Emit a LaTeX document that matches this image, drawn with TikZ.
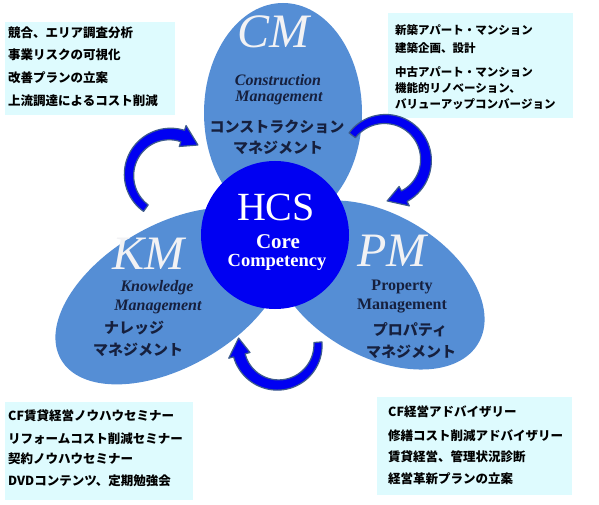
\documentclass[tikz,border=0pt]{standalone}
\usepackage{fontspec}
\setmainfont{Liberation Serif}
\newfontfamily\jpfont{Noto Sans CJK JP}
\usetikzlibrary{calc}

\definecolor{petalblue}{RGB}{85,142,213}
\definecolor{coreblue}{RGB}{0,0,242}
\definecolor{memocyan}{RGB}{222,251,254}
\definecolor{inkblue}{RGB}{22,32,62}
\definecolor{letterwhite}{RGB}{242,242,244}
\definecolor{arrowrim}{RGB}{62,92,140}

\tikzset{
  petal/.style={fill=petalblue},
  core/.style={fill=coreblue},
  memo/.style={fill=memocyan},
  memo line/.style={anchor=west, inner sep=0pt, text=black,
    font=\jpfont\bfseries\fontsize{12.5}{14}\selectfont},
  big letter/.style={inner sep=0pt, text=letterwhite,
    font=\fontsize{48}{48}\selectfont\itshape},
  petal en/.style={inner sep=0pt, text=inkblue,
    font=\fontsize{16}{16}\selectfont\bfseries\itshape},
  petal jp/.style={inner sep=0pt, text=inkblue,
    font=\jpfont\bfseries\fontsize{15}{15}\selectfont},
  arrow body/.style={fill=coreblue, draw=arrowrim, line width=1.2pt, line join=round}
}

% curved block arrow: centre, radius, start angle, end angle (clockwise)
\newcommand{\bentarrow}[4]{%
  \filldraw[arrow body, shift={(#1)}]
    plot[domain=#3:#4, samples=40, variable=\t] ({\t}:{#2+4+2*(\t-(#3))/((#4)-(#3))})
    -- ({#4}:{#2+11}) -- ({#4-25}:{#2}) -- ({#4}:{#2-11})
    -- plot[domain=#4:#3, samples=40, variable=\t] ({\t}:{#2-4-2*(\t-(#3))/((#4)-(#3))})
    -- cycle;}

\begin{document}
\begin{tikzpicture}[x=1pt, y=1pt]

  \useasboundingbox (0,0) rectangle (599,504);

  % Notable points
  \coordinate (CMc) at (283,391);
  \coordinate (KMc) at (171,208);
  \coordinate (PMc) at (378,219);
  \coordinate (HCSc) at (275,269);

  % Memo boxes in the four corners
  \fill[memo] (5,389) rectangle (175,482);
  \fill[memo] (388,386) rectangle (573,491);
  \fill[memo] (5,4) rectangle (193,102);
  \fill[memo] (377,9) rectangle (572,107);

  % Three petals and the core
  \fill[petal] (CMc) ellipse [x radius=79, y radius=110];
  \fill[petal, rotate around={30:(KMc)}] (KMc) ellipse [x radius=127, y radius=71];
  \fill[petal, rotate around={-30:(PMc)}] (PMc) ellipse [x radius=116, y radius=71];
  \fill[core] (HCSc) circle (74);

  % Arrows running round the core
  \bentarrow{170,329}{41}{234}{72}
  \bentarrow{385,344}{41}{143}{-62}
  \bentarrow{278,159}{40}{4}{-165}

  % Core text
  \node[inner sep=0pt, text=white, font=\fontsize{40}{40}\selectfont] (hcs) at (276,297) {HCS};
  \node[inner sep=0pt, text=white, font=\fontsize{21}{21}\selectfont\bfseries] (core) at (278,262) {Core};
  \node[inner sep=0pt, text=white, font=\fontsize{18.5}{18.5}\selectfont\bfseries] (compet) at (277,242) {Competency};

  % CM petal
  \node[big letter] (cm) at (273,472) {CM};
  \node[petal en] (cmen1) at (278,424) {Construction};
  \node[petal en] (cmen2) at (279,406) {Management};
  \node[petal jp] (cmjp1) at (277,377) {コンストラクション};
  \node[petal jp] (cmjp2) at (278,356) {マネジメント};

  % KM petal
  \node[big letter] (km) at (148,250) {KM};
  \node[petal en] (kmen1) at (157,216) {Knowledge};
  \node[petal en] (kmen2) at (158,197) {Management};
  \node[petal jp] (kmjp1) at (134,176) {ナレッジ};
  \node[petal jp] (kmjp2) at (138,154) {マネジメント};

  % PM petal
  \node[big letter] (pm) at (392,253) {PM};
  \node[petal en, font=\fontsize{16}{16}\selectfont\bfseries] (pmen1) at (402,217) {Property};
  \node[petal en, font=\fontsize{16}{16}\selectfont\bfseries] (pmen2) at (402,198) {Management};
  \node[petal jp] (pmjp1) at (410,174) {プロパティ};
  \node[petal jp] (pmjp2) at (411,152) {マネジメント};

  % Upper left memo
  \node[memo line] (nw1) at (8,471) {競合、エリア調査分析};
  \node[memo line] (nw2) at (8,449) {事業リスクの可視化};
  \node[memo line] (nw3) at (8,426) {改善プランの立案};
  \node[memo line] (nw4) at (8,403) {上流調達によるコスト削減};

  % Upper right memo
  \node[memo line, font=\jpfont\bfseries\fontsize{11.5}{13}\selectfont] (ne1) at (395,474) {新築アパート・マンション};
  \node[memo line, font=\jpfont\bfseries\fontsize{11.5}{13}\selectfont] (ne2) at (395,456) {建築企画、設計};
  \node[memo line, font=\jpfont\bfseries\fontsize{11.5}{13}\selectfont] (ne3) at (395,432) {中古アパート・マンション};
  \node[memo line, font=\jpfont\bfseries\fontsize{11.5}{13}\selectfont] (ne4) at (395,416) {機能的リノベーション、};
  \node[memo line, font=\jpfont\bfseries\fontsize{11.5}{13}\selectfont] (ne5) at (395,400) {バリューアップコンバージョン};

  % Lower left memo
  \node[memo line] (sw1) at (8,88) {CF賃貸経営ノウハウセミナー};
  \node[memo line] (sw2) at (8,65) {リフォームコスト削減セミナー};
  \node[memo line] (sw3) at (8,45) {契約ノウハウセミナー};
  \node[memo line] (sw4) at (8,23) {DVDコンテンツ、定期勉強会};

  % Lower right memo
  \node[memo line] (se1) at (388,92) {CF経営アドバイザリー};
  \node[memo line] (se2) at (388,68) {修繕コスト削減アドバイザリー};
  \node[memo line] (se3) at (388,47) {賃貸経営、管理状況診断};
  \node[memo line] (se4) at (388,25) {経営革新プランの立案};

\end{tikzpicture}
\end{document}
